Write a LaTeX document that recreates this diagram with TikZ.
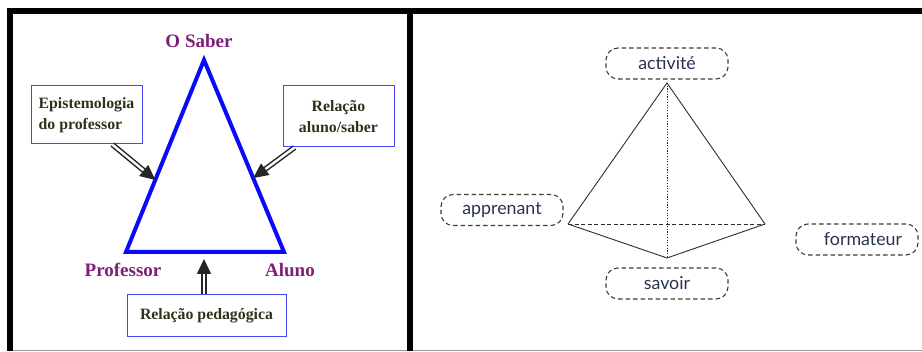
\documentclass[tikz,border=0pt]{standalone}
\usepackage{fontspec}
\setmainfont{Liberation Serif}
\newfontfamily\lbl{Lato}
\usetikzlibrary{arrows.meta,calc}
\definecolor{purp}{RGB}{128,30,120}
\definecolor{boxtxt}{RGB}{45,50,25}
\definecolor{boxblue}{RGB}{70,70,250}
\definecolor{tblue}{RGB}{10,10,250}
\definecolor{pyr}{RGB}{45,45,45}
\definecolor{lbltxt}{RGB}{40,50,80}
\definecolor{dashgray}{RGB}{60,60,60}
\tikzset{
  vlabel/.style={text=purp,font=\bfseries\fontsize{19}{22}\selectfont,inner sep=0pt},
  bluebox/.style={draw=boxblue,line width=1pt,text=boxtxt,font=\bfseries\fontsize{15.8}{21}\selectfont,inner sep=0pt},
  dblarrow/.style={double=white,draw=black!85,double distance=2.4pt,line width=1.5pt,-{Triangle[length=15pt,width=14pt]}},
  pyredge/.style={draw=pyr,line width=0.9pt},
  dashlabel/.style={draw=dashgray,line width=1.1pt,dash pattern=on 4.5pt off 3pt,rounded corners=12pt,
    minimum width=122pt,minimum height=31pt,inner sep=0pt,text=lbltxt,font=\lbl\fontsize{17.8}{20}\selectfont},
  frameline/.style={draw=black,line width=6pt}
}
\begin{document}
\begin{tikzpicture}[x=1pt,y=-1pt]
\useasboundingbox (0,0) rectangle (922,352);
% frame
\draw[draw=gray!80,line width=1.5pt] (7,350.5) -- (922,350.5);
\draw[frameline] (7,11.5) -- (922,11.5);
\draw[frameline] (10.3,8.5) -- (10.3,351);
\draw[frameline] (409.5,8.5) -- (409.5,351);
% left panel: triangle
\coordinate (S) at (204,60);
\coordinate (P) at (126,252);
\coordinate (A) at (284,252);
\draw[tblue,line width=4pt,line join=miter] (S) -- (P) -- (A) -- cycle;
\node[vlabel] (lS) at (199,41) {O Saber};
\node[vlabel] (lP) at (123,270) {Professor};
\node[vlabel] (lA) at (290,270) {Aluno};
\node[bluebox,minimum width=111pt,minimum height=58pt,align=left] (epi) at (86.5,115) {Epistemologia\\do professor};
\node[bluebox,minimum width=111pt,minimum height=61pt,align=center] (rel) at (338.5,116.5) {Relação\\aluno/saber};
\node[bluebox,minimum width=159pt,minimum height=42pt] (ped) at (206.5,316) {Relação pedagógica};
\coordinate (tl) at ($(S)!0.625!(P)$);
\coordinate (tr) at ($(S)!0.615!(A)$);
\coordinate (tb) at (204,259);
\draw[dblarrow] ($(epi.south west)!0.73!(epi.south east)$) -- (tl);
\draw[dblarrow] ($(rel.south west)!0.108!(rel.south east)$) -- (tr);
\draw[dblarrow] (ped.north -| tb) -- (tb);
% right panel: pyramid
\coordinate (T) at (667,83);
\coordinate (L) at (568,224);
\coordinate (R) at (765,224);
\coordinate (B) at (667,258);
\draw[pyredge] (L) -- (T) -- (R);
\draw[pyredge] (L) -- (B) -- (R);
\draw[pyredge,dash pattern=on 4pt off 2.5pt] (L) -- (R);
\draw[pyredge,dash pattern=on 1.2pt off 1.5pt] (T) -- (B);
\node[dashlabel] (act) at (667,63.5) {activité};
\node[dashlabel] (app) at (502,210) {apprenant};
\node[dashlabel] (sav) at (667,283.5) {savoir};
\node[dashlabel] (form) at (857,239.5) {\hspace*{12pt}formateur};
\end{tikzpicture}
\end{document}
